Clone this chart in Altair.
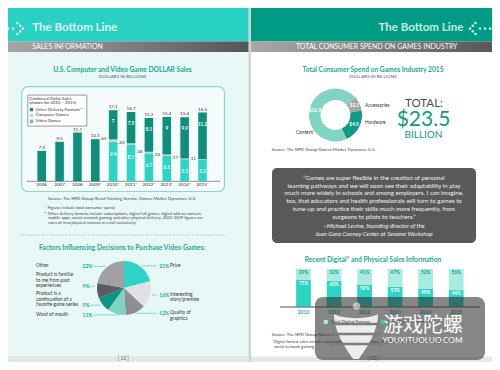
import math
import numpy as np
import pandas as pd
import altair as alt

# ---------------- data ----------------
sales_years = ["2006", "2007", "2008", "2009*", "2010*", "2011*", "2012*", "2013*", "2014*", "2015*"]
sales_total = [7.3, 9.5, 11.7, 10.1, 17.1, 16.7, 15.2, 15.4, 15.4, 16.5]
combined_years = ["2010*", "2011*", "2012*", "2013*", "2014*", "2015*"]
other_formats = [7, 7.5, 8.1, 9, 9.9, 11.2]
computer_games = [0.65, 0.43, 0.38, 0.32, 0.17, 0.11]
video_games = [9.4, 8.7, 6.7, 6.1, 5.3, 5.2]
sales_series = ["Other Delivery Formats**", "Computer Games", "Video Games"]

factor_names = ["Price", "Interesting story/premise", "Quality of graphics", "Word of mouth",
                "Product is a continuation of a favorite game series",
                "Product is familiar to me from past experiences", "Other"]
factor_lines = [["Price"], ["Interesting", "story/premise"], ["Quality of", "graphics"], ["Word of mouth"],
                ["Product is a", "continuation of a", "favorite game series"],
                ["Product is familiar", "to me from past", "experiences"], ["Other"]]
factor_pct = [21, 16, 12, 11, 9, 9, 22]

spend_names = ["Accessories", "Hardware", "Content"]
spend_values = [2.1, 4.9, 16.5]
spend_labels = ["$2.1", "$4.9", "$16.5"]

ds_years = ["2010", "2011", "2012", "2013", "2014", "2015"]
digital_pct = [29, 32, 41, 47, 52, 56]
physical_pct = [71, 68, 59, 53, 48, 44]
ds_series = ["Total Digital Format", "Total Physical Format"]

quote_lines = ["\u201cGames are super flexible in the creation of personal",
               "learning pathways and we will soon see their adaptability in play",
               "much more widely in schools and among employers. I can imagine,",
               "too, that educators and health professionals will turn to games to",
               "tune-up and practice their skills much more frequently, from",
               "surgeons to pilots to teachers.\u201d"]
quote_author = ["\u2013Michael Levine, founding director of the",
                "Joan Ganz Cooney Center at Sesame Workshop"]

# ---------------- styles / layout ----------------
W, H = 484, 354
OX, OY = 8, 8
def X(v): return v - OX
def Y(v): return v - OY

TEAL_L = '#29d1c3'
TEAL_D = '#009b85'
TITLE = '#17a898'
VIDEO = '#2dd4c4'
OTHER = '#0e8f7c'
COMP = '#cfcfcf'
factor_colors = ['#2dd4c4', '#e1e1e4', '#8e8e93', '#7fd3c4', '#0e9482', '#5c5c61', '#a0a0a5']
spend_colors = ['#a5a5a8', '#0e9a84', '#80d4c4']
ds_colors = ['#a8ebe1', '#2dd4c4']
TFS = 6.7  # section title font size

one = pd.DataFrame({'k': [0]})

def rect(x1, y1, x2, y2, **kw):
    return alt.Chart(one).mark_rect(**kw).encode(
        x=alt.value(X(x1)), x2=alt.value(X(x2)), y=alt.value(Y(y1)), y2=alt.value(Y(y2)))

def text(t, x, y, **kw):
    kw.setdefault('baseline', 'middle')
    return alt.Chart(one).mark_text(text=t, **kw).encode(x=alt.value(X(x)), y=alt.value(Y(y)))

def hrule(x1, x2, y, **kw):
    return alt.Chart(one).mark_rule(**kw).encode(
        x=alt.value(X(x1)), x2=alt.value(X(x2)), y=alt.value(Y(y)))

def dot(cx, cy, r):
    return f"M{cx - r:.3f},{cy:.3f}a{r},{r} 0 1,0 {2 * r},0a{r},{r} 0 1,0 {-2 * r},0Z"

icon_pts = [(-0.88, 0), (-0.42, 0), (0.05, 0), (0.46, -0.51), (0.72, -0.26), (0.97, 0), (0.72, 0.26), (0.46, 0.51)]
icon_right = "".join(dot(px, py, 0.12) for px, py in icon_pts)
icon_left = "".join(dot(-px, py, 0.12) for px, py in icon_pts)

grad = alt.LinearGradient(gradient='linear', x1=0, x2=1, y1=0, y2=0,
                          stops=[alt.GradientStop(color='#a9a9a9', offset=0),
                                 alt.GradientStop(color='#555555', offset=1)])

L = []
# ---------------- page backgrounds ----------------
L.append(rect(0, 0, 248.5, 370, fill='#e8f8f6'))
L.append(rect(248.5, 0, 251, 370, fill='#cdd3d1'))
L.append(rect(0, 0, 248.5, 41.5, fill=TEAL_L))
L.append(rect(251, 0, 500, 41.5, fill=TEAL_D))
L.append(rect(0, 41.5, 248.5, 52, color=grad))
L.append(rect(251, 41.5, 500, 52, color=grad))
L.append(rect(0, 356.5, 248.5, 370, fill='#e2e8e6'))
L.append(rect(251, 356.5, 500, 370, fill='#e6e8e8'))
L.append(text("[ 12 ]", 123.3, 359.3, fontSize=4.8, color='#666'))
L.append(text("[ 13 ]", 373, 359.3, fontSize=4.8, color='#666'))

L.append(text("The Bottom Line", 32.3, 27.5, align='left', fontSize=11.5, fontWeight='bold', color='#ddf9f4'))
L.append(text("The Bottom Line", 463.3, 27.5, align='right', fontSize=11.5, fontWeight='bold', color='#c4eee4'))
L.append(alt.Chart(one).mark_point(shape=icon_right, filled=True, size=466, opacity=1, color='#e3fbf7')
         .encode(x=alt.value(X(12.5)), y=alt.value(Y(28.5))))
L.append(alt.Chart(one).mark_point(shape=icon_left, filled=True, size=466, opacity=1, color='#d6f3ec')
         .encode(x=alt.value(X(480.5)), y=alt.value(Y(28.5))))
L.append(text("SALES INFORMATION", 32.3, 46.7, align='left', fontSize=7, color='white'))
L.append(text("TOTAL CONSUMER SPEND ON GAMES INDUSTRY", 376.7, 46.7, fontSize=7, color='white'))

# ---------------- left: dollar sales bar chart ----------------
L.append(text("U.S. Computer and Video Game DOLLAR Sales", 122.5, 69.5, fontSize=TFS, fontWeight='bold', color=TITLE))
L.append(text("DOLLARS IN BILLIONS", 122.5, 77, fontSize=4.6, color='#555'))
L.append(rect(21.7, 86.7, 224.5, 191.5, fill='white', fillOpacity=0.55, stroke='#8ad9cf', strokeWidth=1.2, cornerRadius=6))
L.append(hrule(26.7, 220, 181.3, color='#777', strokeWidth=0.8))

rows = []
for i, yr in enumerate(sales_years):
    if yr in combined_years:
        j = combined_years.index(yr)
        rows += [dict(year=yr, series=sales_series[2], value=video_games[j], ord=0),
                 dict(year=yr, series=sales_series[1], value=computer_games[j], ord=1),
                 dict(year=yr, series=sales_series[0], value=other_formats[j], ord=2)]
    else:
        rows.append(dict(year=yr, series=sales_series[0], value=sales_total[i], ord=2))
sales_df = pd.DataFrame(rows)

sx = alt.Scale(type='point', domain=sales_years, range=[X(41.7), X(202.5)], padding=0)
sy = alt.Scale(domain=[0, 17.1], range=[Y(181.3), Y(110)], nice=False, zero=True)

L.append(alt.Chart(sales_df).mark_bar(size=8.6).encode(
    x=alt.X('year:N', scale=sx, axis=None),
    y=alt.Y('value:Q', stack='zero', scale=sy, axis=None),
    order=alt.Order('ord:Q'),
    color=alt.Color('series:N', scale=alt.Scale(domain=sales_series, range=[OTHER, COMP, VIDEO]),
                    legend=alt.Legend(orient='none', legendX=X(27.3), legendY=Y(94.6),
                                      title=['Combined Dollar Sales', '(shown for 2010 \u2013 2015)'],
                                      titleFontSize=4.3, titleFontWeight='normal', titleColor='#333',
                                      titleLineHeight=4.6, titlePadding=2,
                                      labelFontSize=4.3, labelColor='#333', labelOffset=2,
                                      symbolType='square', symbolSize=11, symbolStrokeWidth=0,
                                      rowPadding=0.8, padding=2, strokeColor='#999', fillColor='white'))))

tot_df = pd.DataFrame({'year': sales_years, 'total': sales_total, 'label': [f"{v:g}" for v in sales_total]})
L.append(alt.Chart(tot_df).mark_text(baseline='bottom', dy=-1, fontSize=4.6, color='#333').encode(
    x=alt.X('year:N', scale=sx, axis=None), y=alt.Y('total:Q', scale=sy, axis=None), text='label:N'))

comb_tot = [sales_total[sales_years.index(y)] for y in combined_years]
oth_df = pd.DataFrame({'year': combined_years, 'top': comb_tot, 'label': [f"{v:g}" for v in other_formats]})
L.append(alt.Chart(oth_df).mark_text(baseline='middle', dy=12, fontSize=4.6, fontWeight='bold', color='white').encode(
    x=alt.X('year:N', scale=sx, axis=None), y=alt.Y('top:Q', scale=sy, axis=None), text='label:N'))

vid_df = pd.DataFrame({'year': combined_years, 'top': video_games, 'label': [f"{v:g}" for v in video_games]})
L.append(alt.Chart(vid_df).mark_text(baseline='middle', dy=12.5, fontSize=4.6, fontWeight='bold', color='#eafffb').encode(
    x=alt.X('year:N', scale=sx, axis=None), y=alt.Y('top:Q', scale=sy, axis=None), text='label:N'))

cmp_df = pd.DataFrame({'year': combined_years,
                       'top': [v + c for v, c in zip(video_games, computer_games)],
                       'label': [("%g" % c).lstrip('0') for c in computer_games]})
L.append(alt.Chart(cmp_df).mark_text(baseline='middle', align='right', dx=-6.5, fontSize=4.6, color='#333').encode(
    x=alt.X('year:N', scale=sx, axis=None), y=alt.Y('top:Q', scale=sy, axis=None), text='label:N'))

yl_df = pd.DataFrame({'year': sales_years})
L.append(alt.Chart(yl_df).mark_text(baseline='middle', fontSize=4.6, color='#333').encode(
    x=alt.X('year:N', scale=sx, axis=None), y=alt.value(Y(185.2)), text='year:N'))

L.append(text("Source: The NPD Group/Retail Tracking Service; Games Market Dynamics: U.S.", 122, 199.3, fontSize=4.3, color='#444'))
L.append(text("*  Figures include total consumer spend.", 45, 207.7, align='left', fontSize=4.1, color='#444'))
L.append(text("** Other delivery formats include subscriptions, digital full games, digital add-on content,", 43.3, 214, align='left', fontSize=4.1, color='#444'))
L.append(text("mobile apps, social network gaming and other physical delivery. 2002-2009 figures are", 48.3, 218.4, align='left', fontSize=4.1, color='#444'))
L.append(text("sales of new physical content at retail exclusively.", 48.3, 222.8, align='left', fontSize=4.1, color='#444'))
L.append(hrule(20.7, 225, 235, color='#9a9a9a', strokeWidth=0.8, strokeDash=[1, 1.6]))

# ---------------- left: pie ----------------
L.append(text("Factors Influencing Decisions to Purchase Video Games:", 122, 248.3, fontSize=TFS, fontWeight='bold', color=TITLE))
pcx, pcy, pr = 124, 288, 27
fdf = pd.DataFrame({'name': factor_names, 'pct': factor_pct, 'ord': list(range(len(factor_pct)))})
L.append(alt.Chart(fdf).mark_arc(outerRadius=pr).encode(
    theta=alt.Theta('pct:Q', stack='zero', scale=alt.Scale(domain=[0, sum(factor_pct)], range=[0, 2 * math.pi])),
    order=alt.Order('ord:Q'),
    color=alt.Color('name:N', scale=alt.Scale(domain=factor_names, range=factor_colors), legend=None),
    x=alt.value(X(pcx)), y=alt.value(Y(pcy))))

# label placement: start at the slice mid-angle, then push apart so text blocks never overlap
LH = 5.5
pct = np.array(factor_pct, dtype=float)
mid = (np.cumsum(pct) - pct / 2) / pct.sum() * 2 * np.pi
right = np.sin(mid) > 0
ly = pcy - 28 * np.cos(mid)
nlines = np.array([len(l) for l in factor_lines])
# left column: text block ends at ly (last line), relax from bottom upward
left_idx = sorted([i for i in range(len(pct)) if not right[i]], key=lambda i: -ly[i])
for a, b in zip(left_idx[:-1], left_idx[1:]):  # a lower, b upper
    lim = ly[a] - (nlines[a] - 1) * LH - 8
    if ly[b] > lim:
        ly[b] = lim
# right column: text block starts at ly (first line), relax from top downward
right_idx = sorted([i for i in range(len(pct)) if right[i]], key=lambda i: ly[i])
for a, b in zip(right_idx[:-1], right_idx[1:]):  # a upper, b lower
    lim = ly[a] + (nlines[a] - 1) * LH + 8
    if ly[b] < lim:
        ly[b] = lim
half = np.sqrt(np.maximum(pr ** 2 - (ly - pcy) ** 2, 0))
ptxt = [f"{p}%" for p in factor_pct]
lab = pd.DataFrame({
    'ptxt': ptxt,
    'lines': factor_lines,
    'ty': ly - OY,
    'ny': np.where(right, ly, ly - (nlines - 1) * LH) - OY,
    'px': np.where(right, X(159.3), X(82.5)),
    'nx': np.where(right, X(170), X(36)),
    'r1': np.where(right, X(pcx) + half + 2, [X(82.5 + len(t) * 3.1 + 1.5) for t in ptxt]),
    'r2': np.where(right, X(157), np.maximum(X(pcx) - half - 2, [X(82.5 + len(t) * 3.1 + 5) for t in ptxt])),
})
L.append(alt.Chart(lab).mark_rule(color='#7fd9cc', strokeWidth=1).encode(
    x=alt.X('r1:Q', scale=None), x2='r2:Q', y=alt.Y('ty:Q', scale=None)))
L.append(alt.Chart(lab).mark_text(align='left', baseline='middle', fontSize=5, fontWeight='bold', color=TITLE).encode(
    x=alt.X('px:Q', scale=None), y=alt.Y('ty:Q', scale=None), text='ptxt:N'))
L.append(alt.Chart(lab).mark_text(align='left', baseline='middle', fontSize=4.8, lineHeight=LH, color='#333').encode(
    x=alt.X('nx:Q', scale=None), y=alt.Y('ny:Q', scale=None), text='lines:N'))

# ---------------- right: donut ----------------
L.append(text("Total Consumer Spend on Games Industry 2015", 373, 70, fontSize=TFS, fontWeight='bold', color=TITLE))
L.append(text("DOLLARS IN BILLIONS", 373, 77, fontSize=4.6, color='#555'))
dcx, dcy = 335.5, 115
a0 = math.radians(48)
tscale = alt.Scale(domain=[0, 23.5], range=[a0, a0 + 2 * math.pi])
ddf = pd.DataFrame({'name': spend_names, 'value': spend_values, 'label': spend_labels, 'ord': [0, 1, 2]})
L.append(alt.Chart(ddf).mark_arc(innerRadius=15, outerRadius=26.5).encode(
    theta=alt.Theta('value:Q', stack='zero', scale=tscale), order=alt.Order('ord:Q'),
    color=alt.Color('name:N', scale=alt.Scale(domain=spend_names, range=spend_colors), legend=None),
    x=alt.value(X(dcx)), y=alt.value(Y(dcy))))
L.append(alt.Chart(ddf).mark_text(radius=21, fontSize=4.8, fontWeight='bold', color='white').encode(
    theta=alt.Theta('value:Q', stack='zero', scale=tscale), order=alt.Order('ord:Q'),
    text='label:N', x=alt.value(X(dcx)), y=alt.value(Y(dcy))))
L.append(text("Accessories", 365, 105.7, align='left', fontSize=4.8, color='#333'))
L.append(text("Hardware", 365, 123.3, align='left', fontSize=4.8, color='#333'))
L.append(text("Content", 313, 133, align='right', fontSize=4.8, color='#333'))
L.append(text("TOTAL:", 424, 103.5, fontSize=11.5, color='#4d4d4d'))
L.append(text("$23.5", 423.5, 119.5, fontSize=21, color='#0f9a84'))
L.append(text("BILLION", 423.5, 134.5, fontSize=10, color='#0f9a84'))
L.append(text("Source: The NPD Group/Games Market Dynamics: U.S.", 271.7, 150, align='left', fontSize=4.3, color='#444'))

# ---------------- right: quote ----------------
L.append(rect(272, 168, 476, 243, fill='#595959', cornerRadius=5))
L.append(text(quote_lines, 374, 177.7, fontSize=6.2, lineHeight=7.9, color='#f2f2f2'))
L.append(text(quote_author, 374, 226, fontSize=6.0, lineHeight=8.3, fontStyle='italic', color='#f2f2f2'))

# ---------------- right: digital vs physical ----------------
L.append(text("Recent Digital* and Physical Sales Information", 373, 260, fontSize=TFS, fontWeight='bold', color=TITLE))
dsx = alt.Scale(type='point', domain=ds_years, range=[X(303.5), X(456.2)], padding=0)
dsy = alt.Scale(domain=[0, 100], range=[Y(306.7), Y(269)], nice=False, zero=True)
ds_rows = []
for i, yr in enumerate(ds_years):
    ds_rows.append(dict(year=yr, series=ds_series[1], value=physical_pct[i], ord=0))
    ds_rows.append(dict(year=yr, series=ds_series[0], value=digital_pct[i], ord=1))
ds_df = pd.DataFrame(ds_rows)
L.append(alt.Chart(ds_df).mark_bar(size=14.7).encode(
    x=alt.X('year:N', scale=dsx, axis=None),
    y=alt.Y('value:Q', stack='zero', scale=dsy, axis=None),
    order=alt.Order('ord:Q'),
    color=alt.Color('series:N', scale=alt.Scale(domain=ds_series, range=ds_colors),
                    legend=alt.Legend(orient='none', legendX=X(323.5), legendY=Y(319.3), direction='horizontal',
                                      title=None, labelFontSize=4.6, labelColor='#444', labelOffset=2.5,
                                      symbolType='square', symbolSize=16, symbolStrokeWidth=0,
                                      columnPadding=10, padding=0))))
L.append(hrule(280, 480, 307, color='#555', strokeWidth=1))
phy_df = pd.DataFrame({'year': ds_years, 'top': physical_pct, 'label': [f"{v}%" for v in physical_pct]})
dig_df = pd.DataFrame({'year': ds_years, 'top': [100] * len(ds_years), 'label': [f"{v}%" for v in digital_pct]})
L.append(alt.Chart(phy_df).mark_text(baseline='middle', dy=4.2, fontSize=4.8, fontWeight='bold', color='white').encode(
    x=alt.X('year:N', scale=dsx, axis=None), y=alt.Y('top:Q', scale=dsy, axis=None), text='label:N'))
L.append(alt.Chart(dig_df).mark_text(baseline='middle', dy=4, fontSize=4.8, fontWeight='bold', color='#1d9e8f').encode(
    x=alt.X('year:N', scale=dsx, axis=None), y=alt.Y('top:Q', scale=dsy, axis=None), text='label:N'))
L.append(alt.Chart(pd.DataFrame({'year': ds_years})).mark_text(baseline='middle', fontSize=5, fontWeight='bold', color='#22ad9e').encode(
    x=alt.X('year:N', scale=dsx, axis=None), y=alt.value(Y(311.7)), text='year:N'))
L.append(text("Source: The NPD Group/Games Market Dynamics: U.S.", 271.7, 335, align='left', fontSize=4.3, color='#444'))
L.append(text("*Digital format sales include subscriptions, digital full games, digital add-on content, mobile apps and",
              272, 342.3, align='left', fontSize=4.1, color='#444'))
L.append(text("social network gaming.", 274, 346.8, align='left', fontSize=4.1, color='#444'))

# ---------------- watermark overlay ----------------
L.append(rect(315, 297, 485, 360, fill='#2e2e2e', fillOpacity=0.58, cornerRadius=8))
bowl = "M-1,-1 C-0.6,-0.75 0.6,-0.75 1,-1 C1,-0.2 0.45,0.6 0.12,1.05 L-0.12,1.05 C-0.45,0.6 -1,-0.2 -1,-1 Z"
L.append(alt.Chart(one).mark_point(shape=bowl, filled=True, size=1936, color='white', opacity=0.85)
         .encode(x=alt.value(X(356)), y=alt.value(Y(336))))
for yy in (324, 334, 344):
    L.append(hrule(330, 382, yy, color='#7d7d7d', strokeWidth=2.4))
L.append(alt.Chart(one).mark_point(shape='circle', filled=True, size=55, color='white', opacity=0.5)
         .encode(x=alt.value(X(356.5)), y=alt.value(Y(306))))
L.append(text("游戏陀螺", 423, 325.5, fontSize=20, font='Noto Sans CJK SC', color='white'))
L.append(text("YOUXITUOLUO.COM", 422.5, 340.5, fontSize=8.2, color='white'))

chart = alt.layer(*L).properties(
    width=W, height=H, padding=0, autosize=alt.AutoSizeParams(type='none')
).resolve_scale(
    x='independent', y='independent', color='independent', theta='independent'
).configure(font='Lato', background='white').configure_view(stroke=None)

chart.save("out.html", embed_options={"renderer": "svg", "actions": False})
